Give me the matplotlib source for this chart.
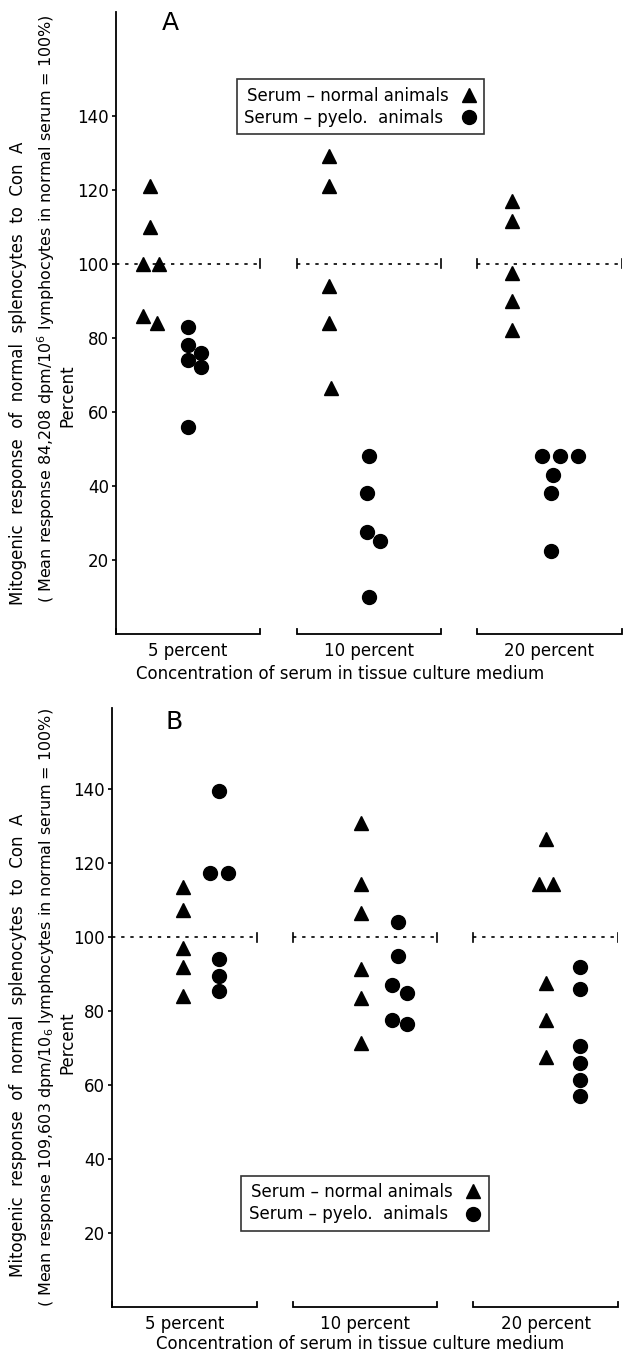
import matplotlib
matplotlib.use('Agg')
import matplotlib.pyplot as plt

plt.rcParams['font.family'] = ['DejaVu Sans']
plt.rcParams['mathtext.fontset'] = 'dejavusans'

groups = ["5 percent", "10 percent", "20 percent"]
yticks = [20, 40, 60, 80, 100, 120, 140]
reference = 100

# panel A (mean response 84,208 dpm)
a_normal = [[121, 110, 100, 100, 86, 84],
            [129, 121, 94, 84, 66.5],
            [117, 111.5, 97.5, 90, 82]]
a_normal_dx = [[-0.21, -0.21, -0.25, -0.16, -0.25, -0.17],
               [-0.22, -0.22, -0.22, -0.22, -0.21],
               [-0.21, -0.21, -0.21, -0.21, -0.21]]
a_pyelo = [[83, 78, 74, 76, 72, 56],
           [48, 38, 27.5, 25, 10],
           [48, 48, 48, 43, 38, 22.5]]
a_pyelo_dx = [[0, 0, 0, 0.07, 0.07, 0],
              [0, -0.01, -0.01, 0.06, 0],
              [-0.04, 0.06, 0.16, 0.02, 0.01, 0.01]]

# panel B (mean response 109,603 dpm)
b_normal = [[113.5, 107.5, 97, 92, 84],
            [131, 114.5, 106.5, 91.5, 83.5, 71.5],
            [126.5, 114.5, 114.5, 87.5, 77.5, 67.5]]
b_normal_dx = [[-0.01, -0.01, -0.01, -0.01, -0.01],
               [-0.02, -0.02, -0.02, -0.02, -0.02, -0.02],
               [0, -0.04, 0.04, 0, 0, 0]]
b_pyelo = [[139.5, 117.5, 117.5, 94, 89.5, 85.5],
           [104, 95, 87, 85, 77.5, 76.5],
           [92, 86, 70.5, 66, 61.5, 57]]
b_pyelo_dx = [[0.19, 0.14, 0.24, 0.19, 0.19, 0.19],
              [0.18, 0.18, 0.15, 0.23, 0.15, 0.23],
              [0.19, 0.19, 0.19, 0.19, 0.19, 0.19]]

half = 0.4


def draw_panel(ax, normal, normal_dx, pyelo, pyelo_dx, ytop):
    ax.set_xlim(-half, len(groups) - 1 + half)
    ax.set_ylim(0, ytop)
    for i in range(len(groups)):
        # reference line at 100 %
        ax.plot([i - half, i + half], [reference, reference], color='black',
                lw=1.2, linestyle=(0, (2, 3.5)), clip_on=False)
        ends = [i + half] if i == 0 else [i - half, i + half]
        for e in ends:
            ax.plot([e, e], [reference - 1.2, reference + 1.2], color='black', lw=1.2)
        # bracket along the bottom
        ax.plot([i - half, i - half, i + half, i + half], [1.4, 0, 0, 1.4],
                color='black', lw=1.3, clip_on=False, solid_joinstyle='miter')
        xs = [i + d for d in normal_dx[i]]
        ax.plot(xs, normal[i], linestyle='none', marker='^', ms=10.5,
                color='black', markeredgewidth=1, clip_on=False)
        xs = [i + d for d in pyelo_dx[i]]
        ax.plot(xs, pyelo[i], linestyle='none', marker='o', ms=10,
                color='black', clip_on=False)
    for s in ['top', 'right', 'bottom']:
        ax.spines[s].set_visible(False)
    ax.spines['left'].set_linewidth(1.3)
    ax.set_yticks(yticks)
    ax.tick_params(axis='y', length=3, width=1.2, pad=2, labelsize=12)
    ax.set_xticks(range(len(groups)))
    ax.set_xticklabels(groups)
    ax.tick_params(axis='x', length=0, pad=6, labelsize=12)


def add_legend(ax, anchor):
    h1 = plt.Line2D([], [], linestyle='none', marker='^', ms=10.5, color='black')
    h2 = plt.Line2D([], [], linestyle='none', marker='o', ms=10, color='black')
    leg = ax.legend([h1, h2], ["Serum – normal animals", "Serum – pyelo.  animals "],
                    loc='upper left', bbox_to_anchor=anchor, borderaxespad=0,
                    markerfirst=False, fancybox=False, fontsize=12,
                    handlelength=1.0, handletextpad=0.7, labelspacing=0.25,
                    borderpad=0.45)
    leg.get_frame().set_edgecolor('black')
    leg.get_frame().set_linewidth(1.2)


fig = plt.figure(figsize=(6.23, 13.53), dpi=100)

axA = fig.add_axes([0.186, 0.5314, 0.812, 0.4597])
draw_panel(axA, a_normal, a_normal_dx, a_pyelo, a_pyelo_dx, 168)
add_legend(axA, (0.239, 0.892))
axA.text(0.107, 0.983, "A", transform=axA.transAxes, fontsize=18,
         ha='center', va='center')
axA.set_xlabel("Concentration of serum in tissue culture medium", fontsize=12)
axA.xaxis.set_label_coords(0.443, -0.05)

axB = fig.add_axes([0.180, 0.034, 0.812, 0.4427])
draw_panel(axB, b_normal, b_normal_dx, b_pyelo, b_pyelo_dx, 162)
add_legend(axB, (0.255, 0.219))
axB.text(0.123, 0.976, "B", transform=axB.transAxes, fontsize=18,
         ha='center', va='center')
axB.set_xlabel("Concentration of serum in tissue culture medium", fontsize=12)
axB.xaxis.set_label_coords(0.49, -0.047)

# y axis titles, three lines each
kw = dict(rotation=90, ha='center', va='center', fontsize=12)
kw2 = dict(rotation=90, ha='center', va='center', fontsize=11.5)
fig.text(0.029, 0.7243, "Mitogenic  response  of  normal  splenocytes  to  Con  A", **kw)
fig.text(0.074, 0.7716,
         r"( Mean response 84,208 dpm/10$^{6}$ lymphocytes in normal serum = 100%)", **kw2)
fig.text(0.1075, 0.7073, "Percent", **kw)
fig.text(0.029, 0.2276, "Mitogenic  response  of  normal  splenocytes  to  Con  A", **kw)
fig.text(0.074, 0.2557,
         r"( Mean response 109,603 dpm/10$_{6}$ lymphocytes in normal serum = 100%)", **kw2)
fig.text(0.1075, 0.229, "Percent", **kw)

fig.savefig("out.png", dpi=100)
